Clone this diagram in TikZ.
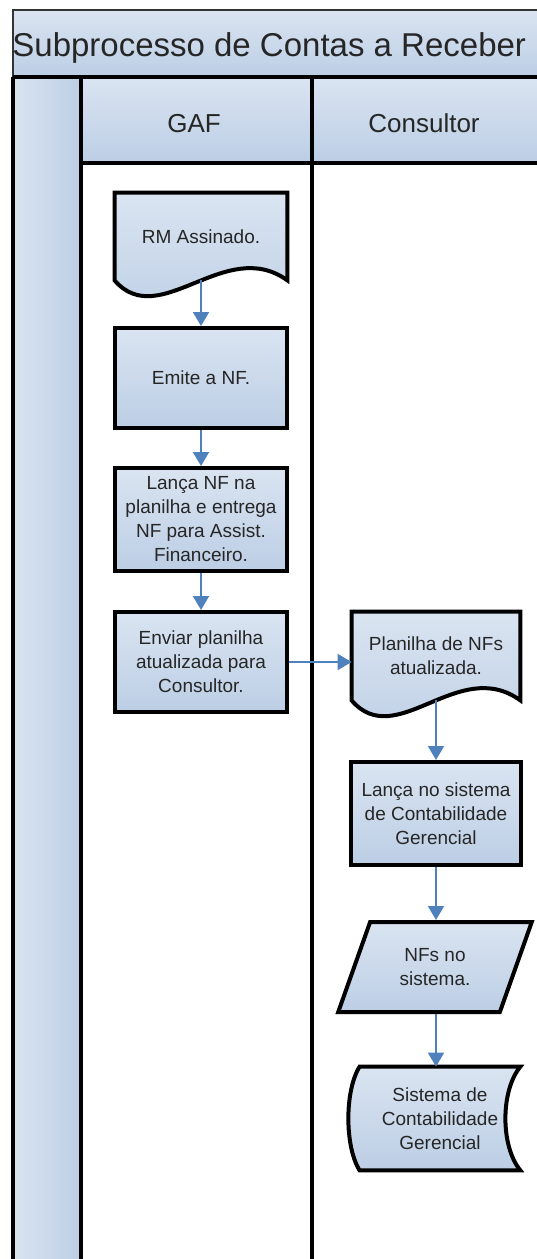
\documentclass[tikz,border=0pt]{standalone}
\usepackage{fontspec}
\setmainfont{Liberation Sans}
\usetikzlibrary{arrows.meta,shapes.geometric,backgrounds}
\definecolor{shadelight}{RGB}{218,228,241}
\definecolor{shadedark}{RGB}{188,206,229}
\definecolor{flowblue}{RGB}{79,129,189}
\definecolor{inkgray}{RGB}{38,38,38}
\tikzset{
  boxline/.style={draw=black, line width=2pt, top color=shadelight, bottom color=shadedark},
  boxfont/.style={font=\fontsize{9.5}{12}\selectfont, text=inkgray, align=center},
  proc/.style={boxline, boxfont, minimum width=86pt, minimum height=50pt, inner sep=2pt},
  doctext/.style={boxfont, minimum width=86pt, inner sep=0pt},
  dataio/.style={boxline, boxfont, trapezium, trapezium left angle=66, trapezium right angle=114,
    trapezium stretches=true, minimum width=97pt, minimum height=45pt, inner sep=1pt},
  lanefont/.style={font=\fontsize{13}{15}\selectfont, text=inkgray},
  frame/.style={draw=black, line width=2pt},
  flow/.style={draw=flowblue, line width=1pt, -{Triangle[width=8pt,length=7pt]}}
}
% document shape, wavy bottom from south west to south east
\newcommand\docshape[1]{\draw[boxline] (#1.south west) -- (#1.north west) -- (#1.north east)
  -- (#1.south east) .. controls +(-31pt,22.5pt) and +(22.5pt,-26pt) .. (#1.south west) -- cycle;}
% stored data shape, both sides bent
\newcommand\storeshape[1]{\draw[boxline] (#1.north west) -- (#1.north east)
  .. controls +(-10pt,-12pt) and +(-10pt,12pt) .. (#1.south east) -- (#1.south west)
  .. controls +(-7.5pt,12pt) and +(-7.5pt,-12pt) .. (#1.north west) -- cycle;}
\begin{document}
\begin{tikzpicture}[x=0.5pt,y=-0.5pt]
\useasboundingbox (0,0) rectangle (536,1259);
% pool and lanes
\shade[top color=shadelight, bottom color=shadedark] (13,10) rectangle (545,77);
\shade[top color=shadelight, bottom color=shadedark] (81,77) rectangle (545,163);
\shade[left color=shadelight, right color=shadedark] (13,77) rectangle (81,1270);
\draw[draw=black!80, line width=1.2pt] (545,10) -- (13,10) -- (13,77);
\draw[frame] (13,77) -- (545,77);
\draw[frame] (81,163) -- (545,163);
\foreach \x in {13,81,312} % edit here for the lane borders
\draw[frame] (\x,77) -- (\x,1270);
\node (titulo) [anchor=base west, inner sep=0pt, font=\fontsize{16.5}{18}\selectfont, text=inkgray] at (12,56) {Subprocesso de Contas a Receber};
\node (gaf) [lanefont, anchor=base] at (194,132) {GAF};
\node (consultor) [lanefont, anchor=base] at (424,132) {Consultor};
% GAF lane
\node (rm) [doctext, minimum height=43.5pt] at (201,236.5) {RM Assinado.};
\node (emite) [proc] at (201,378) {Emite a NF.};
\node (lanca) [proc, minimum height=51.5pt] at (201,519.5) {Lança NF na\\planilha e entrega\\NF para Assist.\\Financeiro.};
\node (enviar) [proc] at (201,662) {Enviar planilha\\atualizada para\\Consultor.};
% Consultor lane
\node (planilha) [doctext, minimum width=84pt, minimum height=44pt] at (436,656) {Planilha de NFs\\atualizada.};
\node (lancasis) [proc, minimum width=85pt, minimum height=51.5pt] at (436,813.5) {Lança no sistema\\de Contabilidade\\Gerencial};
\node (nfs) [dataio] at (435,967) {NFs no\\sistema.};
\node (sistema) [doctext, minimum width=80pt, minimum height=51.5pt] at (440,1118.5) {Sistema de\\Contabilidade\\Gerencial};
\begin{scope}[on background layer]
\docshape{rm}
\docshape{planilha}
\storeshape{sistema}
\end{scope}
% flows
\draw[flow] (rm.south) -- (emite.north);
\draw[flow] (emite) -- (lanca);
\draw[flow] (lanca) -- (enviar);
\draw[flow] (enviar.east) -- (enviar.east -| planilha.west);
\draw[flow] (planilha.south) -- (lancasis.north);
\draw[flow] (lancasis) -- (lancasis |- nfs.north);
\draw[flow] (lancasis |- nfs.south) -- (lancasis |- sistema.north);
\end{tikzpicture}
\end{document}
